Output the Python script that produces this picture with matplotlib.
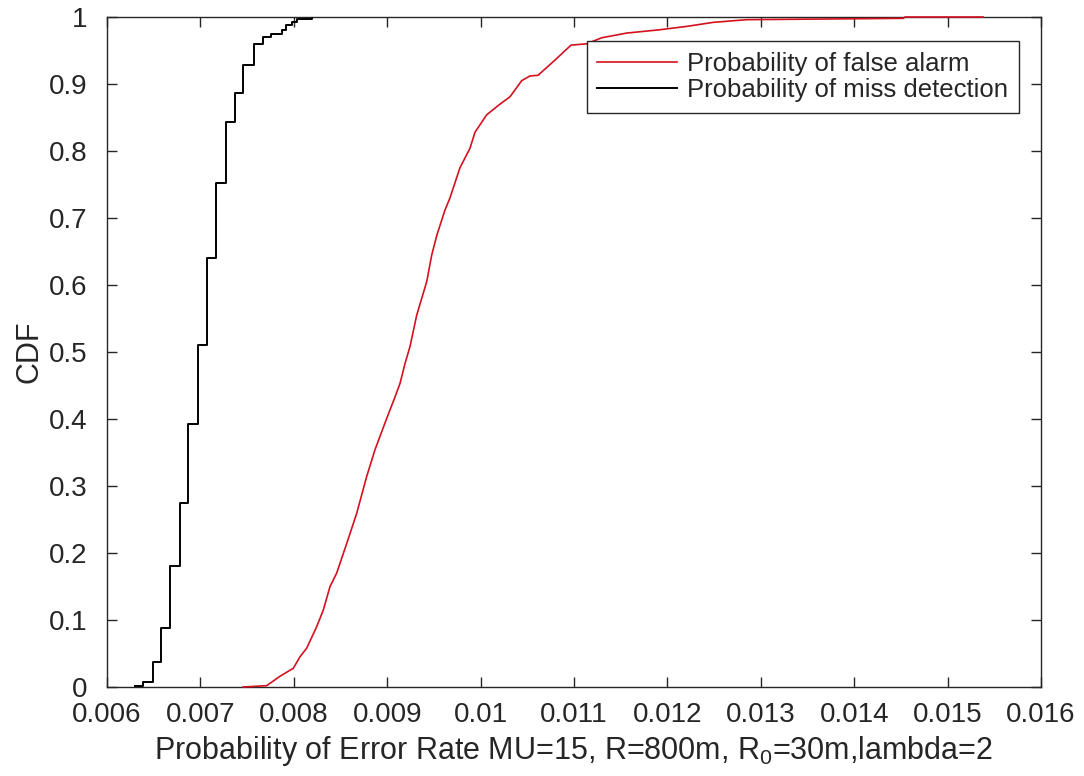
import matplotlib
matplotlib.use("Agg")
import matplotlib.pyplot as plt

plt.rcParams['font.family'] = ['Liberation Sans', 'DejaVu Sans']
plt.rcParams['mathtext.fontset'] = 'custom'
plt.rcParams['mathtext.rm'] = 'Liberation Sans'

# Probability of miss detection (empirical CDF, step)
miss_x = [0.00630, 0.00639, 0.00649, 0.00658, 0.00667, 0.00678, 0.00687,
          0.00697, 0.00707, 0.00717, 0.00727, 0.00737, 0.00746, 0.00757, 0.00767,
          0.00776, 0.00787, 0.00792, 0.00798, 0.00803, 0.00819]
miss_cdf = [0.002, 0.0075, 0.038, 0.0875, 0.181, 0.275, 0.393,
            0.510, 0.641, 0.752, 0.844, 0.887, 0.928, 0.960, 0.970,
            0.975, 0.980, 0.988, 0.993, 0.997, 1.0]

# Probability of false alarm (empirical CDF)
fa_x = [0.007456, 0.007585, 0.007710, 0.007781, 0.007852, 0.007995, 0.008066,
        0.008138, 0.008245, 0.008316, 0.008388, 0.008459, 0.008566, 0.008673,
        0.008780, 0.008869, 0.008995, 0.009084, 0.009137, 0.009191, 0.009244,
        0.009316, 0.009423, 0.009477, 0.009533, 0.009619, 0.009672, 0.009779,
        0.009886, 0.009940, 0.010065, 0.010208, 0.010315, 0.010440, 0.010529,
        0.010615, 0.010783, 0.010968, 0.011136, 0.011297, 0.011564, 0.011921,
        0.012207, 0.012491, 0.012849, 0.014526, 0.014544, 0.015379]
fa_cdf = [0.0, 0.001, 0.002, 0.009, 0.016, 0.028, 0.045,
          0.058, 0.090, 0.115, 0.150, 0.170, 0.214, 0.259,
          0.314, 0.354, 0.401, 0.433, 0.453, 0.483, 0.508,
          0.555, 0.605, 0.645, 0.675, 0.712, 0.730, 0.775,
          0.804, 0.828, 0.854, 0.870, 0.881, 0.905, 0.912,
          0.913, 0.934, 0.958, 0.960, 0.969, 0.976, 0.981,
          0.986, 0.992, 0.996, 0.998, 1.0, 1.0]

x_ticks = [0.006, 0.007, 0.008, 0.009, 0.010, 0.011, 0.012, 0.013, 0.014, 0.015, 0.016]
x_tick_labels = ['0.006', '0.007', '0.008', '0.009', '0.01', '0.011', '0.012',
                 '0.013', '0.014', '0.015', '0.016']
y_ticks = [0, 0.1, 0.2, 0.3, 0.4, 0.5, 0.6, 0.7, 0.8, 0.9, 1]
y_tick_labels = ['0', '0.1', '0.2', '0.3', '0.4', '0.5', '0.6', '0.7', '0.8', '0.9', '1']

dark = '#262626'
fs_tick = 20
fs_label = 22
fs_leg = 18.5

fig = plt.figure(figsize=(10.84, 7.76), dpi=100)
ax = fig.add_axes([107/1084, 1 - 687/776, (1041-107)/1084, (687-17)/776])

ax.plot(fa_x, fa_cdf, color='#d4111f', lw=1.2, zorder=3, clip_on=False,
        label='Probability of false alarm')
ax.step(miss_x, miss_cdf, where='post', color='black', lw=1.4, zorder=3,
        label='Probability of miss detection')

ax.set_xlim(0.006, 0.016)
ax.set_ylim(0, 1)
ax.set_xticks(x_ticks)
ax.set_xticklabels(x_tick_labels)
ax.set_yticks(y_ticks)
ax.set_yticklabels(y_tick_labels)
ax.tick_params(direction='in', length=7, width=1, top=True, right=True,
               colors=dark, labelsize=fs_tick)
ax.tick_params(axis='x', pad=11)
ax.tick_params(axis='y', pad=14)
for s in ax.spines.values():
    s.set_color(dark)
    s.set_linewidth(1.0)

ax.set_xlabel(r'Probability of Error Rate MU=15, R=800m, R$_\mathregular{0}$=30m,lambda=2',
              fontsize=fs_label, color=dark, labelpad=4)
ax.set_ylabel('CDF', fontsize=fs_label, color=dark, labelpad=3)

leg = ax.legend(loc='upper right', bbox_to_anchor=(0.976, 0.9636), borderaxespad=0,
                fontsize=fs_leg, fancybox=False, framealpha=1, edgecolor=dark,
                handlelength=3.1, handletextpad=0.4, labelspacing=0.1,
                borderpad=0.4)
leg.get_frame().set_linewidth(1.0)
for t in leg.get_texts():
    t.set_color(dark)

fig.savefig('out.png', dpi=100)
